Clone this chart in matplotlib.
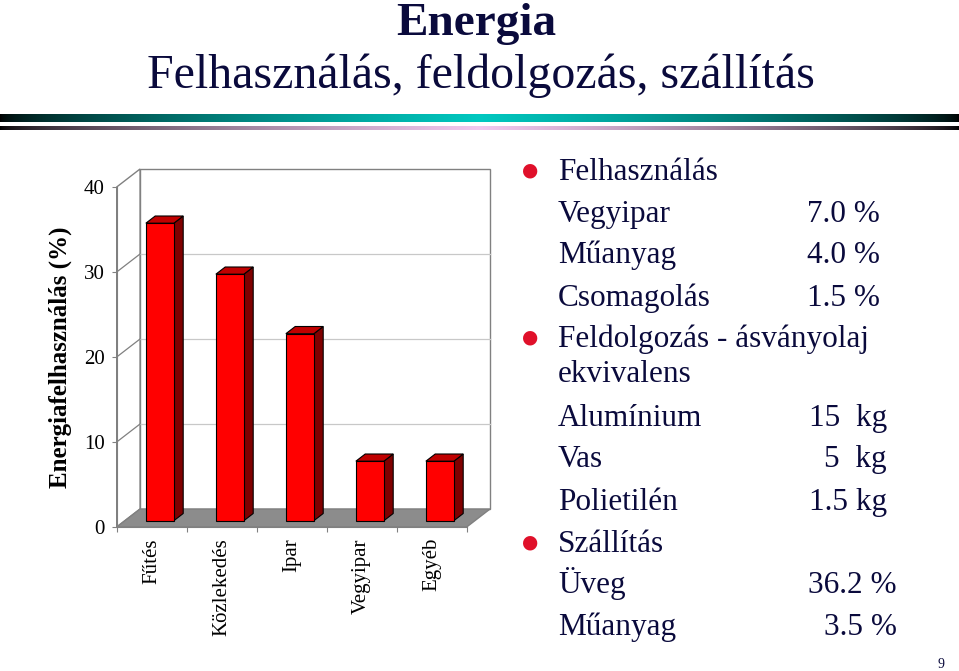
import matplotlib.pyplot as plt
import numpy as np
from matplotlib.patches import Polygon, Rectangle

# chart data
categories = ['Fűtés', 'Közlekedés', 'Ipar', 'Vegyipar', 'Egyéb']
values = [35, 29, 22, 7, 7]
yticks = [0, 10, 20, 30, 40]

# bullet list text
use_items = ['Vegyipar', 'Műanyag', 'Csomagolás']
use_vals = ['7.0 %', '4.0 %', '1.5 %']
proc_items = ['Alumínium', 'Vas', 'Polietilén']
proc_vals = ['15  kg', '5  kg', '1.5 kg']
trans_items = ['Üveg', 'Műanyag']
trans_vals = ['36.2 %', '3.5 %']

plt.rcParams['font.family'] = ['Liberation Serif', 'DejaVu Serif']

W, H = 959, 671
NAVY = '#0a0a3c'
fig = plt.figure(figsize=(W / 100, H / 100), dpi=100)


def fx(x):
    return x / W


def fy(y):
    return 1 - y / H


# Titles
fig.text(fx(476), fy(35), 'Energia', fontsize=34, fontweight='bold',
         color=NAVY, ha='center', va='baseline')
fig.text(fx(481), fy(88), 'Felhasználás, feldolgozás, szállítás',
         fontsize=34.5, color=NAVY, ha='center', va='baseline')

# Decorative gradient bars
dec = fig.add_axes([0, fy(130), 1, 16 / H])
t = np.linspace(0, 1, W)
f = (1 - np.abs(2 * t - 1)) ** 0.6
img = np.ones((16, W, 3))
teal = np.array([0, 200, 192]) / 255
pink = np.array([242, 200, 240]) / 255
img[0:8] = f[None, :, None] * teal
img[12:16] = f[None, :, None] * pink
dec.imshow(img, aspect='auto', interpolation='bilinear')
dec.axis('off')

# 3D-looking bar chart
ax = fig.add_axes([fx(116.7), fy(527), 350 / W, 340 / H])
ax.set_xlim(0, 5)
ax.set_ylim(0, 40)
ax.patch.set_visible(False)
DX, DY = 1 / 3, 40 * 18 / 340
GRAY = '#808080'

ax.add_patch(Rectangle((DX, DY), 5, 40, facecolor='white', edgecolor=GRAY,
                       lw=1, clip_on=False, zorder=0.5))
ax.add_patch(Polygon([(0, 0), (DX, DY), (DX, 40 + DY), (0, 40)], closed=True,
                     facecolor='white', edgecolor=GRAY, lw=1, clip_on=False,
                     zorder=0.5))
for v in yticks[1:-1]:
    ax.plot([DX, 5 + DX], [v + DY, v + DY], color='#c8c8c8', lw=0.9,
            clip_on=False, zorder=0.6)
    ax.plot([0, DX], [v, v + DY], color=GRAY, lw=0.9, clip_on=False,
            zorder=0.6)
ax.add_patch(Polygon([(0, 0), (5, 0), (5 + DX, DY), (DX, DY)], closed=True,
                     facecolor='#8c8c8c', edgecolor=GRAY, lw=1, clip_on=False,
                     zorder=0.7))

d0, dd, w = 0.35, 0.4, 0.4
for i, v in enumerate(values):
    x0 = i + 0.5 - w / 2 + d0 * DX
    y0 = d0 * DY
    ax.add_patch(Polygon([(x0 + w, y0), (x0 + w + dd * DX, y0 + dd * DY),
                          (x0 + w + dd * DX, y0 + v + dd * DY), (x0 + w, y0 + v)],
                         closed=True, facecolor='#800000', edgecolor='black',
                         lw=0.8, clip_on=False, zorder=2))
    ax.add_patch(Polygon([(x0, y0 + v), (x0 + w, y0 + v),
                          (x0 + w + dd * DX, y0 + v + dd * DY),
                          (x0 + dd * DX, y0 + v + dd * DY)],
                         closed=True, facecolor='#c00000', edgecolor='black',
                         lw=0.8, clip_on=False, zorder=2))
    ax.add_patch(Rectangle((x0, y0), w, v, facecolor='#ff0000',
                           edgecolor='black', lw=0.8, clip_on=False, zorder=2))

ax.spines['top'].set_visible(False)
ax.spines['right'].set_visible(False)
ax.spines['left'].set_color(GRAY)
ax.spines['bottom'].set_color(GRAY)
ax.set_yticks(yticks)
ax.set_yticklabels([str(v) for v in yticks], fontsize=15)
ax.tick_params(axis='y', length=3.5, color=GRAY, pad=5)
ax.set_xticks(range(6))
ax.set_xticklabels([])
ax.set_xticks(np.arange(5) + 0.5, minor=True)
ax.set_xticklabels(categories, minor=True, rotation=90, fontsize=15,
                   va='top', ha='center')
ax.tick_params(axis='x', which='major', length=3.5, color=GRAY)
ax.tick_params(axis='x', which='minor', length=0, pad=8)

fig.text(fx(60), fy(357), 'Energiafelhasználás (%)', rotation=90,
         fontsize=18, fontweight='bold', ha='center', va='center')

# Bullet list on the right
TX, FS = 558, 22.5
RED = '#e0102a'
rows = [('Felhasználás', None, None, True, 180)]
for (name, val, y) in zip(use_items, use_vals, [222, 263, 306]):
    rows.append((name, val, 880, False, y))
rows.append(('Feldolgozás - ásványolaj', None, None, True, 347))
rows.append(('ekvivalens', None, None, False, 382))
for (name, val, y) in zip(proc_items, proc_vals, [426, 467, 510]):
    rows.append((name, val, 887, False, y))
rows.append(('Szállítás', None, None, True, 552))
for (name, val, y) in zip(trans_items, trans_vals, [593, 635]):
    rows.append((name, val, 897, False, y))

for name, val, vx, bullet, y in rows:
    fig.text(fx(TX), fy(y), name, fontsize=FS, color=NAVY, va='baseline')
    if val is not None:
        fig.text(fx(vx), fy(y), val, fontsize=FS, color=NAVY, ha='right',
                 va='baseline')
    if bullet:
        fig.text(fx(530), fy(y - 10), '\u25cf', fontsize=13.5, color=RED,
                 ha='center', va='center', family='DejaVu Sans')

fig.text(fx(941), fy(668), '9', fontsize=10, color=NAVY, ha='center',
         va='baseline')

fig.savefig('out.png', dpi=100)
